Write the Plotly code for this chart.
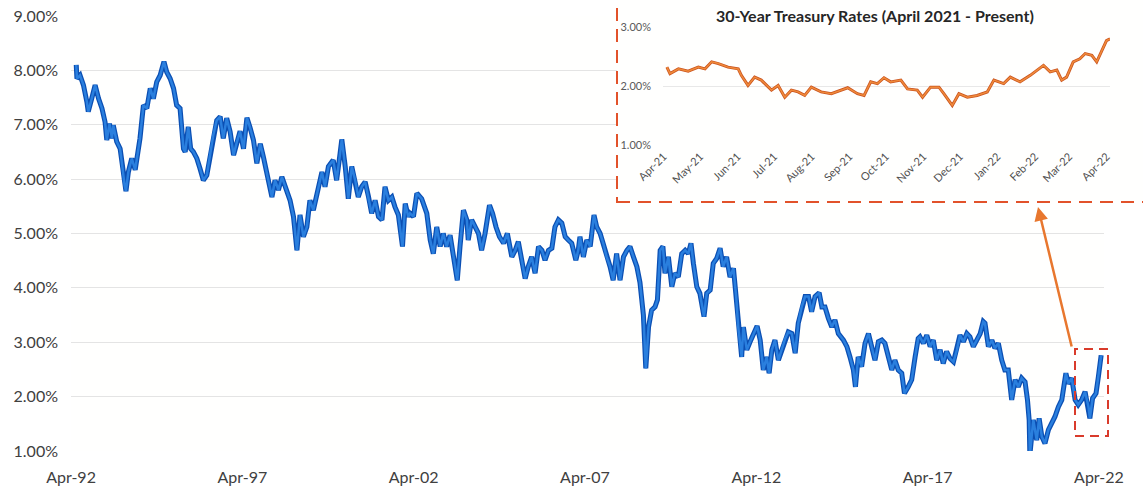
import plotly.graph_objects as go
from datetime import datetime

# ---------------- data ----------------
main_years = [
    1992.40, 1992.42, 1992.51, 1992.61, 1992.71, 1992.75, 1992.85, 1992.95, 1993.05, 1993.15,
    1993.24, 1993.29, 1993.37, 1993.44, 1993.48, 1993.58, 1993.68, 1993.76, 1993.81, 1993.85,
    1993.92, 1994.02, 1994.12, 1994.17, 1994.26, 1994.36, 1994.46, 1994.56, 1994.65, 1994.75,
    1994.85, 1994.96, 1995.04, 1995.14, 1995.24, 1995.33, 1995.43, 1995.53, 1995.58, 1995.67,
    1995.74, 1995.82, 1995.92, 1996.01, 1996.11, 1996.21, 1996.31, 1996.40, 1996.50, 1996.60,
    1996.69, 1996.79, 1996.89, 1996.99, 1997.09, 1997.18, 1997.28, 1997.38, 1997.47, 1997.57,
    1997.67, 1997.77, 1997.86, 1997.96, 1998.11, 1998.20, 1998.30, 1998.40, 1998.50, 1998.64,
    1998.74, 1998.84, 1998.93, 1999.03, 1999.13, 1999.22, 1999.32, 1999.47, 1999.57, 1999.66,
    1999.76, 1999.90, 2000.00, 2000.10, 2000.15, 2000.25, 2000.34, 2000.44, 2000.54, 2000.63,
    2000.73, 2000.83, 2000.93, 2001.02, 2001.12, 2001.22, 2001.32, 2001.41, 2001.51, 2001.61,
    2001.70, 2001.80, 2001.92, 2002.00, 2002.09, 2002.14, 2002.24, 2002.34, 2002.48, 2002.63,
    2002.73, 2002.82, 2002.92, 2003.02, 2003.11, 2003.21, 2003.31, 2003.41, 2003.52, 2003.60,
    2003.70, 2003.80, 2003.84, 2003.94, 2004.04, 2004.14, 2004.23, 2004.33, 2004.46, 2004.55,
    2004.65, 2004.75, 2004.87, 2004.98, 2005.11, 2005.21, 2005.30, 2005.40, 2005.50, 2005.59,
    2005.69, 2005.79, 2005.89, 2005.99, 2006.08, 2006.18, 2006.28, 2006.37, 2006.47, 2006.57,
    2006.67, 2006.76, 2006.86, 2006.98, 2007.05, 2007.10, 2007.20, 2007.30, 2007.40, 2007.51,
    2007.59, 2007.69, 2007.78, 2007.88, 2007.98, 2008.07, 2008.17, 2008.27, 2008.37, 2008.47,
    2008.56, 2008.66, 2008.76, 2008.85, 2008.95, 2009.02, 2009.10, 2009.19, 2009.29, 2009.36,
    2009.44, 2009.52, 2009.58, 2009.68, 2009.78, 2009.87, 2009.97, 2010.07, 2010.17, 2010.26,
    2010.34, 2010.41, 2010.51, 2010.60, 2010.72, 2010.80, 2010.90, 2010.99, 2011.09, 2011.19,
    2011.28, 2011.38, 2011.48, 2011.58, 2011.66, 2011.72, 2011.82, 2011.87, 2011.97, 2012.06,
    2012.16, 2012.27, 2012.36, 2012.45, 2012.55, 2012.62, 2012.70, 2012.79, 2012.89, 2012.99,
    2013.09, 2013.18, 2013.28, 2013.38, 2013.47, 2013.57, 2013.67, 2013.77, 2013.86, 2013.96,
    2014.08, 2014.16, 2014.25, 2014.35, 2014.45, 2014.54, 2014.64, 2014.79, 2014.89, 2014.98,
    2015.08, 2015.14, 2015.22, 2015.32, 2015.42, 2015.52, 2015.61, 2015.71, 2015.81, 2015.91,
    2016.00, 2016.10, 2016.20, 2016.29, 2016.39, 2016.49, 2016.57, 2016.68, 2016.78, 2016.88,
    2016.97, 2017.02, 2017.12, 2017.22, 2017.32, 2017.41, 2017.51, 2017.61, 2017.70, 2017.80,
    2017.90, 2018.00, 2018.10, 2018.19, 2018.29, 2018.39, 2018.48, 2018.58, 2018.68, 2018.78,
    2018.87, 2018.92, 2019.02, 2019.12, 2019.21, 2019.31, 2019.41, 2019.50, 2019.60, 2019.70,
    2019.80, 2019.89, 2019.99, 2020.09, 2020.16, 2020.21, 2020.23, 2020.33, 2020.43, 2020.50,
    2020.58, 2020.67, 2020.77, 2020.87, 2020.96, 2021.06, 2021.16, 2021.28, 2021.35, 2021.45,
    2021.55, 2021.64, 2021.74, 2021.84, 2021.94, 2021.98, 2022.06, 2022.16, 2022.23, 2022.31,
]
main_rates = [
    8.10, 7.85, 7.91, 7.73, 7.42, 7.24, 7.48, 7.73, 7.48, 7.30,
    7.05, 6.72, 7.02, 6.75, 6.99, 6.69, 6.56, 6.13, 5.89, 5.78,
    6.13, 6.38, 6.17, 6.38, 6.75, 7.36, 7.30, 7.67, 7.48, 7.79,
    7.91, 8.16, 7.97, 7.85, 7.67, 7.36, 7.30, 6.56, 6.50, 6.96,
    6.56, 6.50, 6.38, 6.20, 5.98, 6.07, 6.44, 6.81, 7.08, 7.15,
    6.75, 7.12, 6.87, 6.44, 6.69, 6.88, 6.56, 7.13, 6.95, 6.72,
    6.29, 6.65, 6.41, 6.10, 5.67, 5.98, 5.80, 6.04, 5.86, 5.61,
    5.31, 4.69, 5.34, 4.94, 5.12, 5.61, 5.43, 5.86, 6.13, 5.86,
    6.23, 6.35, 5.98, 6.47, 6.73, 6.23, 5.64, 6.23, 5.98, 5.67,
    5.86, 5.95, 5.67, 5.37, 5.61, 5.31, 5.25, 5.86, 5.61, 5.67,
    5.49, 5.34, 4.76, 5.55, 5.31, 5.37, 5.31, 5.74, 5.64, 5.37,
    4.88, 4.63, 5.12, 4.76, 5.00, 4.76, 4.97, 4.57, 4.14, 4.76,
    5.43, 5.25, 4.88, 5.25, 5.12, 5.00, 4.69, 5.00, 5.52, 5.37,
    5.12, 4.94, 4.82, 5.00, 4.57, 4.69, 4.85, 4.51, 4.17, 4.39,
    4.57, 4.27, 4.76, 4.69, 4.51, 4.69, 4.73, 5.12, 5.25, 5.19,
    4.94, 4.88, 4.82, 4.51, 4.69, 4.94, 4.57, 4.88, 4.76, 5.34,
    5.12, 5.00, 4.82, 4.57, 4.39, 4.14, 4.63, 4.14, 4.57, 4.69,
    4.76, 4.57, 4.39, 4.10, 3.50, 2.52, 3.28, 3.59, 3.65, 3.78,
    4.69, 4.76, 4.27, 4.57, 4.02, 4.27, 4.20, 4.63, 4.69, 4.63,
    4.82, 4.45, 4.02, 3.90, 3.47, 3.90, 3.96, 4.45, 4.54, 4.73,
    4.39, 4.57, 4.20, 4.36, 3.84, 3.28, 2.73, 3.28, 2.86, 3.00,
    3.16, 3.30, 3.04, 2.49, 2.73, 2.43, 2.86, 3.04, 2.67, 2.86,
    3.07, 3.19, 3.16, 2.80, 3.35, 3.65, 3.84, 3.84, 3.56, 3.84,
    3.91, 3.65, 3.65, 3.44, 3.28, 3.41, 3.16, 3.04, 2.92, 2.73,
    2.49, 2.18, 2.73, 2.55, 2.98, 3.16, 2.92, 2.67, 3.01, 3.04,
    2.98, 2.73, 2.49, 2.67, 2.49, 2.43, 2.06, 2.18, 2.31, 2.73,
    3.07, 3.10, 2.98, 3.13, 2.92, 3.04, 2.67, 2.86, 2.61, 2.83,
    2.70, 2.64, 2.86, 3.13, 3.01, 3.16, 3.10, 2.92, 3.04, 3.16,
    3.38, 3.35, 2.92, 3.04, 2.89, 2.98, 2.67, 2.49, 2.49, 1.94,
    2.31, 2.18, 2.34, 2.27, 1.94, 1.57, 0.93, 1.57, 1.20, 1.60,
    1.26, 1.14, 1.39, 1.51, 1.63, 1.81, 1.94, 2.43, 2.24, 2.34,
    1.94, 1.85, 1.94, 2.09, 1.81, 1.60, 1.97, 2.06, 2.37, 2.76,
]

inset_years = [
    2021.254, 2021.261, 2021.280, 2021.302, 2021.325, 2021.340, 2021.355, 2021.370, 2021.392, 2021.415,
    2021.422, 2021.437, 2021.452, 2021.467, 2021.490, 2021.505, 2021.520, 2021.535, 2021.550, 2021.565,
    2021.580, 2021.602, 2021.625, 2021.647, 2021.662, 2021.684, 2021.699, 2021.714, 2021.729, 2021.744,
    2021.759, 2021.782, 2021.797, 2021.819, 2021.831, 2021.849, 2021.868, 2021.879, 2021.898, 2021.913,
    2021.932, 2021.954, 2021.977, 2021.992, 2022.014, 2022.029, 2022.051, 2022.074, 2022.089, 2022.104,
    2022.119, 2022.134, 2022.145, 2022.156, 2022.171, 2022.186, 2022.198, 2022.213, 2022.224, 2022.235,
    2022.246, 2022.254,
]
inset_rates = [
    2.32, 2.21, 2.29, 2.25, 2.32, 2.29, 2.41, 2.38, 2.32, 2.29,
    2.18, 2.01, 2.15, 2.10, 1.93, 2.01, 1.81, 1.93, 1.90, 1.84,
    1.98, 1.90, 1.87, 1.93, 1.97, 1.87, 1.84, 2.07, 2.04, 2.14,
    2.07, 2.10, 1.95, 1.93, 1.81, 1.98, 1.98, 1.87, 1.67, 1.87,
    1.81, 1.84, 1.90, 2.10, 2.04, 2.15, 2.07, 2.18, 2.27, 2.35,
    2.24, 2.27, 2.10, 2.15, 2.41, 2.46, 2.55, 2.52, 2.41, 2.60,
    2.77, 2.80,
]

main_tick_vals = [1, 2, 3, 4, 5, 6, 7, 8, 9]
main_tick_text = ["1.00%", "2.00%", "3.00%", "4.00%", "5.00%", "6.00%", "7.00%", "8.00%", "9.00%"]
inset_tick_vals = [1, 2, 3]
inset_tick_text = ["1.00%", "2.00%", "3.00%"]
inset_title = "30-Year Treasury Rates (April 2021 - Present)"


def to_date(y):
    yr = int(y)
    start = datetime(yr, 1, 1)
    end = datetime(yr + 1, 1, 1)
    return start + (end - start) * (y - yr)


main_dates = [to_date(v) for v in main_years]
inset_dates = [to_date(v) for v in inset_years]

# ---------------- layout helpers (pixel -> paper) ----------------
W, H = 1143, 490


def fx(px):
    return px / W


def fy(py):
    return 1 - py / H


FONT = "Lato"
BG = "#FFFFFE"

main_left, main_right = 71, 1104
main_top, main_bottom = 16, 451
px_per_year = 34.27

inset_left, inset_right = 663, 1110
inset_top, inset_bottom = 27, 145

border_x = 617
border_y = 202

fig = go.Figure()

# main series (dark edge + bright core)
fig.add_trace(go.Scatter(x=main_dates, y=main_rates, mode="lines",
                         line=dict(color="#0B4FB3", width=5.0), xaxis="x", yaxis="y",
                         hoverinfo="skip"))
fig.add_trace(go.Scatter(x=main_dates, y=main_rates, mode="lines",
                         line=dict(color="#2A7FDE", width=2.5), xaxis="x", yaxis="y"))

# empty panel subplot: its background hides the main gridlines behind the inset
fig.add_trace(go.Scatter(x=[], y=[], mode="lines", xaxis="x2", yaxis="y2",
                         hoverinfo="skip"))

# inset series
fig.add_trace(go.Scatter(x=inset_dates, y=inset_rates, mode="lines",
                         line=dict(color="#C9531F", width=3.0), xaxis="x3", yaxis="y3",
                         hoverinfo="skip"))
fig.add_trace(go.Scatter(x=inset_dates, y=inset_rates, mode="lines",
                         line=dict(color="#F08A3A", width=1.5), xaxis="x3", yaxis="y3"))

fig.update_layout(
    width=W, height=H,
    margin=dict(l=0, r=0, t=0, b=0),
    paper_bgcolor="white", plot_bgcolor=BG,
    showlegend=False,
    font=dict(family=FONT, color="#404040"),
    xaxis=dict(
        domain=[fx(main_left), fx(main_right)],
        anchor="y",
        type="date",
        range=[datetime(1992, 3, 31, 12), to_date(1992.25 + (main_right - main_left) / px_per_year)],
        tick0="1992-04-01", dtick="M60", tickformat="%b-%y",
        showgrid=False, zeroline=False, showline=False, ticks="",
        tickfont=dict(size=16, color="#404040", family=FONT),
        ticklabelstandoff=15,
        automargin=False,
    ),
    yaxis=dict(
        domain=[fy(main_bottom), fy(main_top)],
        anchor="x",
        range=[1, 9],
        tickmode="array", tickvals=main_tick_vals, ticktext=main_tick_text,
        showgrid=True, gridcolor="#E4E4E4", gridwidth=1,
        zeroline=False, showline=False, ticks="",
        tickfont=dict(size=16, color="#404040", family=FONT),
        ticklabelstandoff=12,
        automargin=False,
    ),
    xaxis2=dict(
        domain=[fx(border_x), 1.0], anchor="y2",
        range=[0, 1], visible=False, showgrid=False, zeroline=False, fixedrange=True,
    ),
    yaxis2=dict(
        domain=[fy(border_y), 1.0], anchor="x2",
        range=[0, 1], visible=False, showgrid=False, zeroline=False, fixedrange=True,
    ),
    xaxis3=dict(
        domain=[fx(inset_left), fx(inset_right)],
        anchor="y3",
        type="date",
        range=[datetime(2021, 3, 31, 12), to_date(2022.254)],
        tick0="2021-04-01", dtick="M1", tickformat="%b-%y", tickangle=-45,
        showgrid=False, zeroline=False, showline=False, ticks="",
        tickfont=dict(size=11, color="#505050", family=FONT),
        ticklabelstandoff=2,
        automargin=False,
    ),
    yaxis3=dict(
        domain=[fy(inset_bottom), fy(inset_top)],
        anchor="x3",
        range=[1, 3],
        tickmode="array", tickvals=inset_tick_vals, ticktext=inset_tick_text,
        showgrid=True, gridcolor="#E8E8E8", gridwidth=1,
        zeroline=False, showline=False, ticks="",
        tickfont=dict(size=11, color="#595959", family=FONT),
        ticklabelstandoff=11,
        automargin=False,
    ),
)

shapes = [
    # dashed inset frame
    dict(type="rect", xref="paper", yref="paper",
         x0=fx(border_x), x1=fx(W + 10), y0=fy(border_y), y1=fy(-10),
         fillcolor="rgba(0,0,0,0)",
         line=dict(color="#E2522A", width=2, dash="13px,8px"), layer="above"),
    # dashed highlight box on the main chart
    dict(type="rect", xref="paper", yref="paper",
         x0=fx(1075), x1=fx(1108), y0=fy(436), y1=fy(349),
         fillcolor="rgba(0,0,0,0)",
         line=dict(color="#D93B2B", width=2, dash="9px,6px"), layer="above"),
]
fig.update_layout(shapes=shapes)

annotations = [
    dict(x=fx(875), y=fy(16), xref="paper", yref="paper",
         text="<b>" + inset_title + "</b>", showarrow=False,
         xanchor="center", yanchor="middle",
         font=dict(size=16, color="#262626", family=FONT)),
    dict(x=fx(1038), y=fy(207), xref="paper", yref="paper",
         ax=34, ay=141, axref="pixel", ayref="pixel",
         text="", showarrow=True, arrowhead=2, arrowsize=1.1,
         arrowwidth=2.5, arrowcolor="#E8772E"),
]
fig.update_layout(annotations=annotations)

fig.write_html("out.html")
